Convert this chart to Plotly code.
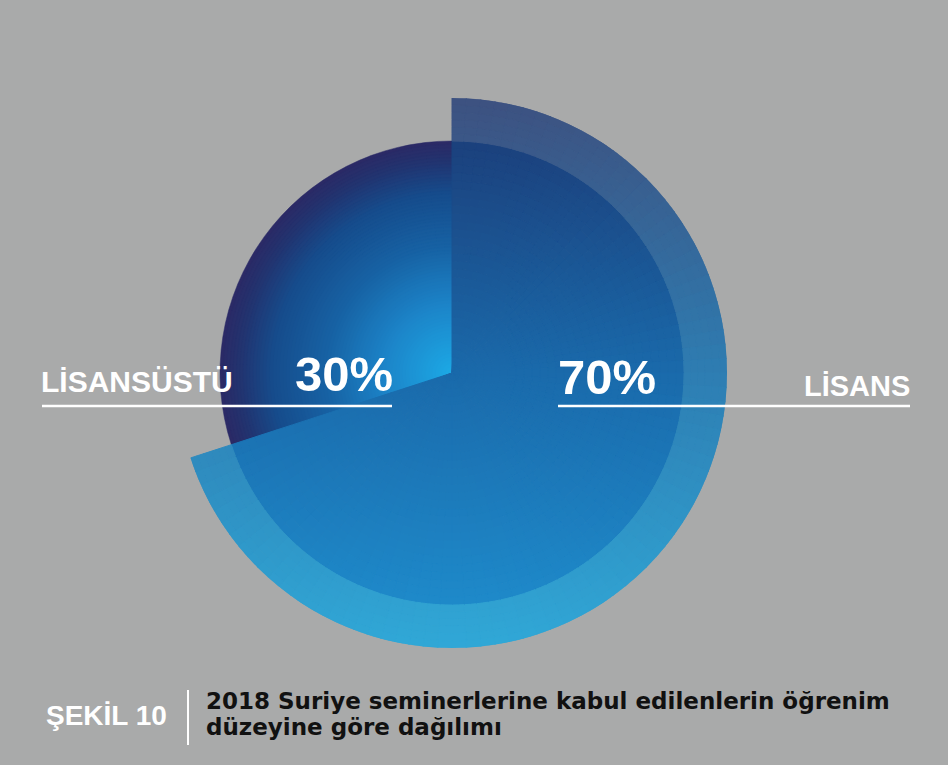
import numpy as np
import plotly.graph_objects as go

# ---------------- data ----------------
categories = ["LİSANS", "LİSANSÜSTÜ"]
values = [70, 30]
caption_label = "ŞEKİL 10"
caption_lines = ["2018 Suriye seminerlerine kabul edilenlerin öğrenim",
                 "düzeyine göre dağılımı"]

# ---------------- style ----------------
W, H = 948, 765
BG = "#a9aaaa"
CX, CY = 452, 373          # pie centre (px)
R_BIG, R_SMALL = 275, 232  # outer radius of the big / small slice (px)
FONT = "Liberation Sans"
TITLE_FONT = "DejaVu Sans"


def interp(stops, t):
    ps = [p for p, _ in stops]
    t = min(max(t, ps[0]), ps[-1])
    for (p0, c0), (p1, c1) in zip(stops[:-1], stops[1:]):
        if p0 <= t <= p1:
            f = 0 if p1 == p0 else (t - p0) / (p1 - p0)
            c = [round(a + (b - a) * f) for a, b in zip(c0, c1)]
            return "rgb(%d,%d,%d)" % tuple(c)
    c = stops[-1][1]
    return "rgb(%d,%d,%d)" % tuple(c)


# vertical gradient (t = +1 top, -1 bottom) for the big slice
INNER_STOPS = [(-0.85, (30, 138, 202)), (0.0, (26, 106, 171)), (0.85, (27, 64, 124))]
RING_STOPS = [(-1.0, (48, 168, 215)), (0.0, (46, 125, 178)), (1.0, (61, 81, 128))]
# radial gradient for the small slice (0 centre, 1 edge)
RADIAL_STOPS = [(0.0, (28, 170, 230)), (0.3, (28, 132, 200)), (0.55, (23, 98, 164)),
                (0.78, (22, 76, 140)), (0.92, (34, 52, 112)), (1.0, (43, 42, 102))]

total = sum(values)
spans = [v / total * 360 for v in values]
starts = np.concatenate([[0], np.cumsum(spans)[:-1]])
radius_for = [R_BIG, R_SMALL]

fig = go.Figure()

for k, (cat, v) in enumerate(zip(categories, values)):
    st, sp, R = starts[k], spans[k], radius_for[k]
    if k == 0:
        # mosaic of cells so the colour can follow the vertical gradient
        n_ang = int(round(sp / 3))
        da = sp / n_ang
        redges = list(np.linspace(0, R_SMALL, 30)) + list(np.linspace(R_SMALL, R_BIG, 7))[1:]
        th, wd, base, rr, cols = [], [], [], [], []
        for i in range(n_ang):
            tc = st + (i + 0.5) * da
            for r0, r1 in zip(redges[:-1], redges[1:]):
                rm = 0.5 * (r0 + r1)
                t = rm * np.cos(np.radians(tc)) / R_BIG
                col = interp(INNER_STOPS if rm < R_SMALL else RING_STOPS, t)
                th.append(tc); wd.append(da); base.append(r0); rr.append(r1 - r0)
                cols.append(col)
        fig.add_trace(go.Barpolar(r=rr, base=base, theta=th, width=wd,
                                  marker=dict(color=cols, line=dict(color=cols, width=1)),
                                  name=cat, hoverinfo="skip", showlegend=False))
    else:
        # concentric stacked sectors -> radial gradient
        radii = np.linspace(R, 3, 70)
        cols = [interp(RADIAL_STOPS, r / R) for r in radii]
        fig.add_trace(go.Barpolar(r=list(radii), base=[0] * len(radii),
                                  theta=[st + sp / 2] * len(radii), width=[sp] * len(radii),
                                  marker=dict(color=cols, line=dict(color=cols, width=0.5)),
                                  name=cat, hoverinfo="skip", showlegend=False))

fig.data = (fig.data[1], fig.data[0])  # big slice drawn on top

fig.update_layout(
    width=W, height=H, margin=dict(l=0, r=0, t=0, b=0),
    paper_bgcolor=BG, plot_bgcolor=BG, showlegend=False,
    polar=dict(
        domain=dict(x=[(CX - R_BIG) / W, (CX + R_BIG) / W],
                    y=[(H - CY - R_BIG) / H, (H - CY + R_BIG) / H]),
        bgcolor="rgba(0,0,0,0)",
        radialaxis=dict(visible=False, range=[0, R_BIG]),
        angularaxis=dict(visible=False, rotation=90, direction="clockwise"),
    ),
)


def text(s, baseline, size, color="white", left=None, right=None, family=FONT):
    yc = baseline - 0.346 * size
    if left is not None:
        x, xa = left / W, "left"
    else:
        x, xa = right / W, "right"
    fig.add_annotation(text=s, x=x, y=1 - yc / H, xref="paper", yref="paper",
                       xanchor=xa, yanchor="middle", showarrow=False,
                       borderpad=0, borderwidth=0,
                       font=dict(family=family, size=size, color=color, weight="bold"))


def hline(x0, x1, y, w=2.5, color="white"):
    fig.add_shape(type="line", xref="paper", yref="paper",
                  x0=x0 / W, x1=x1 / W, y0=1 - y / H, y1=1 - y / H,
                  line=dict(color=color, width=w))


# labels
text(categories[1], 392, 30, left=41)
text(f"{values[1]}%", 391, 49, left=295)
text(f"{values[0]}%", 394, 49, left=558)
text(categories[0], 396, 29, right=910)
hline(42, 392, 406)
hline(558, 910, 406)

# caption
text(caption_label, 725, 28, left=46)
fig.add_shape(type="line", xref="paper", yref="paper",
              x0=188 / W, x1=188 / W, y0=1 - 690 / H, y1=1 - 745 / H,
              line=dict(color="white", width=2))
text(caption_lines[0], 709, 23, color="#111111", left=206, family=TITLE_FONT)
text(caption_lines[1], 735, 23, color="#111111", left=206, family=TITLE_FONT)

fig.write_html("out.html", config={"displayModeBar": False},
               post_script="document.body.style.margin='0';document.body.style.background='%s';" % BG)
